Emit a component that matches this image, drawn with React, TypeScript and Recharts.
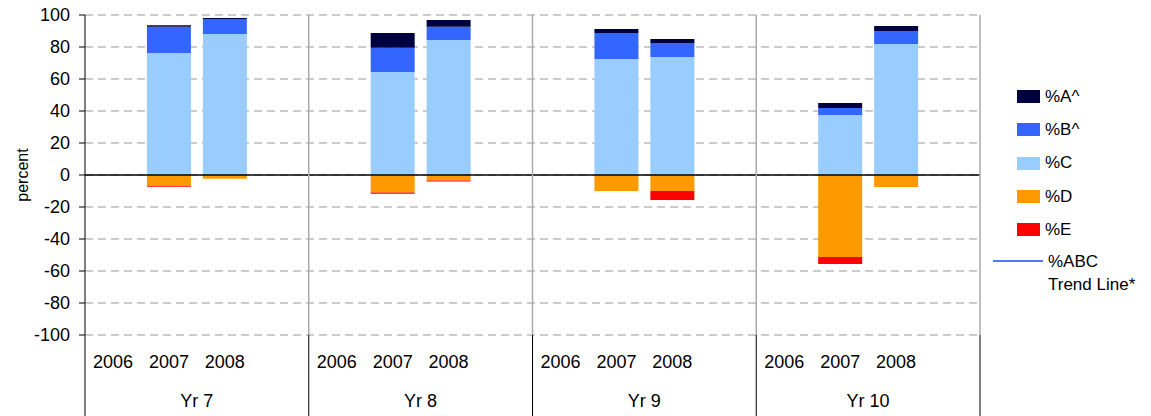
import { BarChart, Bar, XAxis, YAxis, CartesianGrid, ReferenceLine } from 'recharts';

const groups = ['Yr 7', 'Yr 8', 'Yr 9', 'Yr 10'];
// 4 slots per group: 2006, 2007, 2008 and an empty spacer
const years = ['2006', '2007', '2008', ''];

const pctA = [null, 1.0, 0.6, null, null, 9.2, 4.2, null, null, 2.5, 2.5, null, null, 3.1, 3.1, null];
const pctB = [null, 16.4, 9.4, null, null, 15.2, 8.3, null, null, 16.2, 8.7, null, null, 4.4, 8.1, null];
const pctC = [null, 76.2, 88.1, null, null, 64.4, 84.4, null, null, 72.5, 73.8, null, null, 37.5, 81.9, null];
const pctD = [null, -6.7, -2.3, null, null, -11.0, -3.5, null, null, -10.0, -10.0, null, null, -51.2, -7.5, null];
const pctE = [null, -0.6, 0, null, null, -0.7, -0.6, null, null, 0, -5.6, null, null, -4.4, 0, null];

const yTicks = [-100, -80, -60, -40, -20, 0, 20, 40, 60, 80, 100];

const data = groups.flatMap((g, gi) =>
  years.map((yr, yi) => {
    const i = gi * years.length + yi;
    return { group: g, year: yr, A: pctA[i], B: pctB[i], C: pctC[i], D: pctD[i], E: pctE[i] };
  })
);

const W = 1151;
const H = 416;
const PLOT_LEFT = 85;
const PLOT_RIGHT = 980;
const PLOT_TOP = 15;
const PLOT_BOTTOM = 335;
const BAND = (PLOT_RIGHT - PLOT_LEFT) / data.length;
const FONT = '"Liberation Sans", Arial, sans-serif';

const colors = { A: '#000040', B: '#3366FF', C: '#99CCFF', D: '#FF9900', E: '#FF0000' };

const legendItems = [
  { label: '%A^', color: colors.A },
  { label: '%B^', color: colors.B },
  { label: '%C', color: colors.C },
  { label: '%D', color: colors.D },
  { label: '%E', color: colors.E },
];

function YearTick(props: any) {
  const { x, payload } = props;
  return (
    <text x={x} y={PLOT_BOTTOM + 33} textAnchor="middle" fontSize={18} fontFamily={FONT} fill="#000">
      {payload.value}
    </text>
  );
}

function GroupTick(props: any) {
  const { x, index, payload } = props;
  const parts: any[] = [];
  const drawBoundary = (bx: number, key: string, inner: boolean) => {
    if (inner) {
      parts.push(<line key={key + 'g'} x1={bx} x2={bx} y1={PLOT_TOP} y2={PLOT_BOTTOM} stroke="#aaa" strokeWidth={1.5} />);
    }
    parts.push(<line key={key + 'b'} x1={bx} x2={bx} y1={PLOT_BOTTOM} y2={H} stroke="#000" strokeWidth={1} />);
  };
  if (index % 4 === 0) drawBoundary(x - BAND / 2, 'l', index > 0);
  if (index === data.length - 1) drawBoundary(x + BAND / 2, 'r', true);
  if (index % 4 === 1) {
    parts.push(
      <text key="t" x={x + BAND / 2} y={PLOT_BOTTOM + 72} textAnchor="middle" fontSize={18} fontFamily={FONT} fill="#000">
        {payload.value}
      </text>
    );
  }
  return <g>{parts}</g>;
}

export default function App() {
  return (
    <div style={{ position: 'absolute', left: 0, top: 0, width: W, height: H, fontFamily: FONT }}>
      <BarChart
        width={W}
        height={H}
        data={data}
        stackOffset="sign"
        margin={{ top: PLOT_TOP, right: W - PLOT_RIGHT, bottom: 0, left: 0 }}
      >
        <CartesianGrid vertical={false} stroke="#999" strokeDasharray="8 5" />
        <XAxis dataKey="year" height={45} axisLine={false} tickLine={false} interval={0} tick={<YearTick />} />
        <XAxis
          xAxisId="group"
          dataKey="group"
          height={36}
          axisLine={false}
          tickLine={false}
          interval={0}
          tick={<GroupTick />}
        />
        <YAxis
          width={PLOT_LEFT}
          domain={[-100, 100]}
          ticks={yTicks}
          interval={0}
          tickSize={6}
          tickMargin={9}
          axisLine={{ stroke: '#000' }}
          tickLine={{ stroke: '#000' }}
          tick={{ fill: '#000', fontSize: 18, fontFamily: FONT }}
          label={{ value: 'percent', angle: -90, position: 'center', dx: -20, fill: '#000', fontSize: 16, fontFamily: FONT }}
        />
        <Bar dataKey="C" stackId="s" fill={colors.C} barSize={44} isAnimationActive={false} />
        <Bar dataKey="B" stackId="s" fill={colors.B} barSize={44} isAnimationActive={false} />
        <Bar dataKey="A" stackId="s" fill={colors.A} barSize={44} isAnimationActive={false} />
        <Bar dataKey="D" stackId="s" fill={colors.D} barSize={44} isAnimationActive={false} />
        <Bar dataKey="E" stackId="s" fill={colors.E} barSize={44} isAnimationActive={false} />
        <ReferenceLine y={0} stroke="#000" strokeWidth={1.5} />
      </BarChart>

      <div style={{ position: 'absolute', left: 990, top: 80, fontSize: 17, color: '#000' }}>
        {legendItems.map((it) => (
          <div key={it.label} style={{ display: 'flex', alignItems: 'center', height: 33.3 }}>
            <span style={{ display: 'inline-block', width: 23, height: 13, background: it.color, marginLeft: 27, marginRight: 5 }} />
            <span>{it.label}</span>
          </div>
        ))}
        <div style={{ display: 'flex', alignItems: 'flex-start', marginTop: 4 }}>
          <span style={{ display: 'inline-block', width: 50, height: 2, background: '#4d7cff', marginLeft: 3, marginRight: 5, marginTop: 10 }} />
          <span style={{ lineHeight: '23px' }}>
            %ABC
            <br />
            Trend Line*
          </span>
        </div>
      </div>
    </div>
  );
}
